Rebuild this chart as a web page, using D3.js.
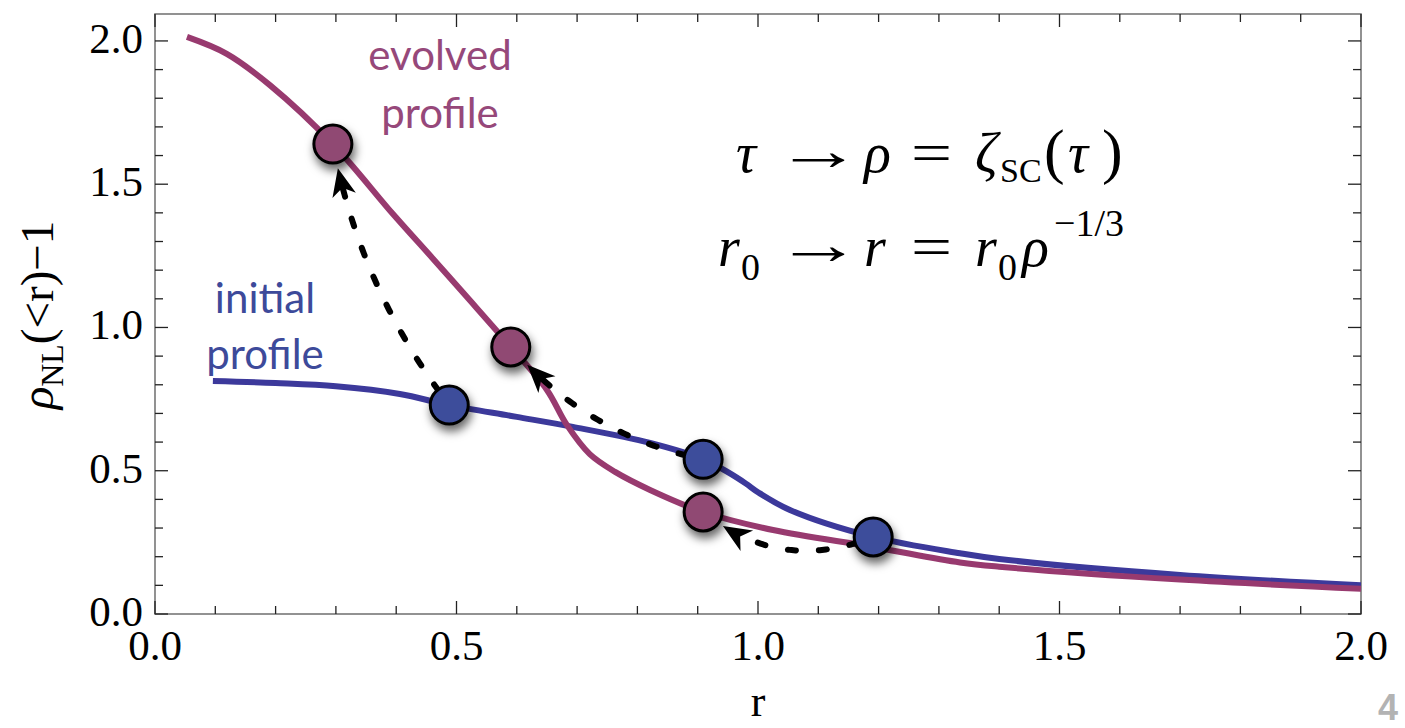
<!DOCTYPE html>
<meta charset="utf-8">
<script src="https://d3js.org/d3.v7.min.js"></script>
<style>body{margin:0;background:#fff;}</style>
<div id="chart"></div>
<script>

// evolved profile (magenta)
var evolvedR   = [0.053, 0.119, 0.191, 0.295, 0.395, 0.461, 0.517, 0.590, 0.650, 0.683, 0.721, 0.763, 0.821, 0.909, 1.025, 1.191, 1.335, 1.400, 1.700, 2.000];
var evolvedRho = [2.014, 1.955, 1.845, 1.640, 1.395, 1.240, 1.107, 0.932, 0.782, 0.660, 0.558, 0.496, 0.433, 0.356, 0.293, 0.234, 0.180, 0.165, 0.120, 0.088];

// initial profile (blue)
var initialR   = [0.096, 0.200, 0.300, 0.406, 0.488, 0.600, 0.693, 0.821, 0.909, 0.950, 0.980, 1.000, 1.053, 1.191, 1.335, 1.400, 1.700, 2.000];
var initialRho = [0.813, 0.806, 0.795, 0.768, 0.729, 0.688, 0.653, 0.597, 0.540, 0.495, 0.455, 0.425, 0.363, 0.269, 0.212, 0.192, 0.136, 0.100];

// marked shells: initial position -> evolved position
var initialDotR   = [0.488, 0.909, 1.191];
var initialDotRho = [0.729, 0.540, 0.269];
var evolvedDotR   = [0.295, 0.590, 0.909];
var evolvedDotRho = [1.640, 0.932, 0.356];

var xTickValues = [0, 0.5, 1, 1.5, 2];
var xTickLabels = ["0.0", "0.5", "1.0", "1.5", "2.0"];
var yTickValues = [0, 0.5, 1, 1.5, 2];
var yTickLabels = ["0.0", "0.5", "1.0", "1.5", "2.0"];

var magenta = "#983a6f", magentaDot = "#904a73";
var blue = "#3c399b", blueDot = "#3d4e9b";

var W = 1405, H = 728;
var svg = d3.select("#chart").append("svg")
    .attr("width", W).attr("height", H)
    .style("background", "#fff");

var x = d3.scaleLinear().domain([0, 2]).range([155, 1361]);
var y = d3.scaleLinear().domain([0, 2.094]).range([614, 14]);

// shadow for the dots
var defs = svg.append("defs");
var f = defs.append("filter").attr("id", "shadow")
    .attr("x", "-60%").attr("y", "-60%").attr("width", "220%").attr("height", "220%");
f.append("feDropShadow").attr("dx", 2).attr("dy", 6).attr("stdDeviation", 5)
    .attr("flood-color", "#000").attr("flood-opacity", 0.6);
defs.append("clipPath").attr("id", "plotclip").append("rect")
    .attr("x", x(0)).attr("y", y.range()[1]).attr("width", x(2) - x(0)).attr("height", y(0) - y.range()[1]);

// frame
svg.append("rect")
    .attr("x", x(0)).attr("y", y.range()[1])
    .attr("width", x(2) - x(0)).attr("height", y(0) - y.range()[1])
    .attr("fill", "none").attr("stroke", "#777").attr("stroke-width", 1.6);

// ticks (inward, on all four sides)
var minor = d3.range(0, 21).map(function(i) { return i / 10; });
var tickG = svg.append("g").attr("stroke", "#222").attr("stroke-width", 1.3);
minor.forEach(function(v) {
  var big = Math.abs(v * 2 - Math.round(v * 2)) < 1e-6;
  var len = big ? 13 : 8;
  tickG.append("line").attr("x1", x(v)).attr("x2", x(v)).attr("y1", y(0)).attr("y2", y(0) - len);
  tickG.append("line").attr("x1", x(v)).attr("x2", x(v)).attr("y1", y.range()[1]).attr("y2", y.range()[1] + len);
  tickG.append("line").attr("y1", y(v)).attr("y2", y(v)).attr("x1", x(0)).attr("x2", x(0) + len);
  tickG.append("line").attr("y1", y(v)).attr("y2", y(v)).attr("x1", x(2)).attr("x2", x(2) - len);
});

// tick labels
var serif = "'Liberation Serif', 'DejaVu Serif', serif";
svg.append("g").selectAll("text").data(xTickValues).enter().append("text")
    .attr("x", function(d) { return x(d); })
    .attr("y", 660)
    .attr("text-anchor", "middle")
    .style("font-family", serif).style("font-size", "43px").attr("fill", "#000")
    .text(function(d, i) { return xTickLabels[i]; });
svg.append("g").selectAll("text").data(yTickValues).enter().append("text")
    .attr("x", 143)
    .attr("y", function(d) { return y(d) + 12; })
    .attr("text-anchor", "end")
    .style("font-family", serif).style("font-size", "43px").attr("fill", "#000")
    .text(function(d, i) { return yTickLabels[i]; });

// axis labels
svg.append("text")
    .attr("x", x(1)).attr("y", 716)
    .attr("text-anchor", "middle")
    .style("font-family", serif).style("font-size", "44px")
    .text("r");

var yl = svg.append("text")
    .attr("transform", "translate(53,315) rotate(-90)")
    .attr("text-anchor", "middle")
    .style("font-family", serif).style("font-size", "47px");
yl.append("tspan").style("font-style", "italic").text("ρ");
yl.append("tspan").attr("dy", 10).style("font-size", "32px").text("NL");
yl.append("tspan").attr("dy", -10).text("(<r)−1");

// curves
var line = d3.line()
    .x(function(d) { return x(d[0]); })
    .y(function(d) { return y(d[1]); })
    .curve(d3.curveCatmullRom.alpha(0.5));

var plot = svg.append("g").attr("clip-path", "url(#plotclip)");
plot.append("path")
    .datum(initialR.map(function(r, i) { return [r, initialRho[i]]; }))
    .attr("d", line).attr("fill", "none")
    .attr("stroke", blue).attr("stroke-width", 6);
plot.append("path")
    .datum(evolvedR.map(function(r, i) { return [r, evolvedRho[i]]; }))
    .attr("d", line).attr("fill", "none")
    .attr("stroke", magenta).attr("stroke-width", 6);

// dashed arrows from initial dot to evolved dot
var dotR = 19;
var bends = [34, 38, 50];
function bez(p0, c, p1, t) {
  var u = 1 - t;
  return [u * u * p0[0] + 2 * u * t * c[0] + t * t * p1[0],
          u * u * p0[1] + 2 * u * t * c[1] + t * t * p1[1]];
}
function dist(a, b) { return Math.hypot(a[0] - b[0], a[1] - b[1]); }

var arrowG = svg.append("g");
initialDotR.forEach(function(r0, i) {
  var p0 = [x(r0), y(initialDotRho[i])];
  var p1 = [x(evolvedDotR[i]), y(evolvedDotRho[i])];
  var dx = p1[0] - p0[0], dy = p1[1] - p0[1], len = Math.hypot(dx, dy);
  var n = [dy / len, -dx / len];
  var c = [(p0[0] + p1[0]) / 2 + n[0] * bends[i], (p0[1] + p1[1]) / 2 + n[1] * bends[i]];
  var t0 = 0, t1 = 1;
  while (dist(bez(p0, c, p1, t0), p0) < dotR - 2) t0 += 0.002;
  while (dist(bez(p0, c, p1, t1), p1) < dotR + 5) t1 -= 0.002;
  var tip = bez(p0, c, p1, t1);
  var back = bez(p0, c, p1, t1 - 0.01);
  var u = [tip[0] - back[0], tip[1] - back[1]], ul = Math.hypot(u[0], u[1]);
  u = [u[0] / ul, u[1] / ul];
  var nn = [-u[1], u[0]];
  var L = 28, Wd = 12;
  // dashed shaft stops inside the head
  var tEnd = t1;
  while (dist(bez(p0, c, p1, tEnd), tip) < L * 0.6) tEnd -= 0.002;
  var pts = d3.range(0, 61).map(function(k) { return bez(p0, c, p1, t0 + (tEnd - t0) * k / 60); });
  arrowG.append("path")
      .attr("d", d3.line()(pts))
      .attr("fill", "none").attr("stroke", "#000")
      .attr("stroke-width", 6).attr("stroke-linecap", "round")
      .attr("stroke-dasharray", "8,23");
  var head = [
    tip,
    [tip[0] - u[0] * L + nn[0] * Wd, tip[1] - u[1] * L + nn[1] * Wd],
    [tip[0] - u[0] * L * 0.72, tip[1] - u[1] * L * 0.72],
    [tip[0] - u[0] * L - nn[0] * Wd, tip[1] - u[1] * L - nn[1] * Wd]
  ];
  arrowG.append("path").attr("d", "M" + head.join("L") + "Z").attr("fill", "#000");
});

// dots
var dotG = svg.append("g");
dotG.selectAll(".ini").data(initialDotR).enter().append("circle")
    .attr("cx", function(d) { return x(d); })
    .attr("cy", function(d, i) { return y(initialDotRho[i]); })
    .attr("r", dotR).attr("fill", blueDot)
    .attr("stroke", "#000").attr("stroke-width", 3)
    .attr("filter", "url(#shadow)");
dotG.selectAll(".evo").data(evolvedDotR).enter().append("circle")
    .attr("cx", function(d) { return x(d); })
    .attr("cy", function(d, i) { return y(evolvedDotRho[i]); })
    .attr("r", dotR).attr("fill", magentaDot)
    .attr("stroke", "#000").attr("stroke-width", 3)
    .attr("filter", "url(#shadow)");

// curve labels
var sans = "Lato, 'Open Sans', sans-serif";
var ev = svg.append("text").attr("text-anchor", "middle")
    .style("font-family", sans).style("font-size", "42px").attr("fill", "#96487a");
ev.append("tspan").attr("x", 440).attr("y", 70).text("evolved");
ev.append("tspan").attr("x", 440).attr("y", 128).text("profile");
var ini = svg.append("text").attr("text-anchor", "middle")
    .style("font-family", sans).style("font-size", "42px").attr("fill", "#3d4a9a");
ini.append("tspan").attr("x", 265).attr("y", 313).text("initial");
ini.append("tspan").attr("x", 265).attr("y", 369).text("profile");

// mapping formulas, each piece placed on its own
function piece(g, px, py, txt, opt) {
  opt = opt || {};
  g.append("text")
      .attr("transform", "translate(" + px + "," + py + ") scale(" + (opt.sx || 1) + ",1)")
      .style("font-family", serif)
      .style("font-size", (opt.size || 56) + "px")
      .style("font-style", opt.italic ? "italic" : "normal")
      .text(txt);
}
var fg = svg.append("g");
// line 1: tau -> rho = zeta_SC(tau)
piece(fg, 736, 172, "τ", {italic: true});
piece(fg, 775, 170, "→", {size: 58, sx: 1.5});
piece(fg, 864, 172, "ρ", {italic: true});
piece(fg, 911, 172, "=", {sx: 1.3});
piece(fg, 975, 172, "ζ", {italic: true});
piece(fg, 1000, 182, "SC", {size: 34});
piece(fg, 1044, 172, "(", {size: 62});
piece(fg, 1068, 172, "τ", {italic: true});
piece(fg, 1102, 172, ")", {size: 62});
// line 2: r0 -> r = r0 rho^(-1/3)
piece(fg, 718, 266, "r", {italic: true});
piece(fg, 741, 280, "0", {size: 38});
piece(fg, 775, 264, "→", {size: 58, sx: 1.5});
piece(fg, 864, 266, "r", {italic: true});
piece(fg, 911, 266, "=", {sx: 1.3});
piece(fg, 975, 266, "r", {italic: true});
piece(fg, 998, 280, "0", {size: 38});
piece(fg, 1022, 266, "ρ", {italic: true});
piece(fg, 1054, 236, "−1/3", {size: 38});

// slide number
svg.append("text").attr("x", 1378).attr("y", 720)
    .style("font-family", "'Liberation Sans', Arial, sans-serif").style("font-weight", "bold")
    .style("font-size", "36px").attr("fill", "#b3b3b3").text("4");

</script>
